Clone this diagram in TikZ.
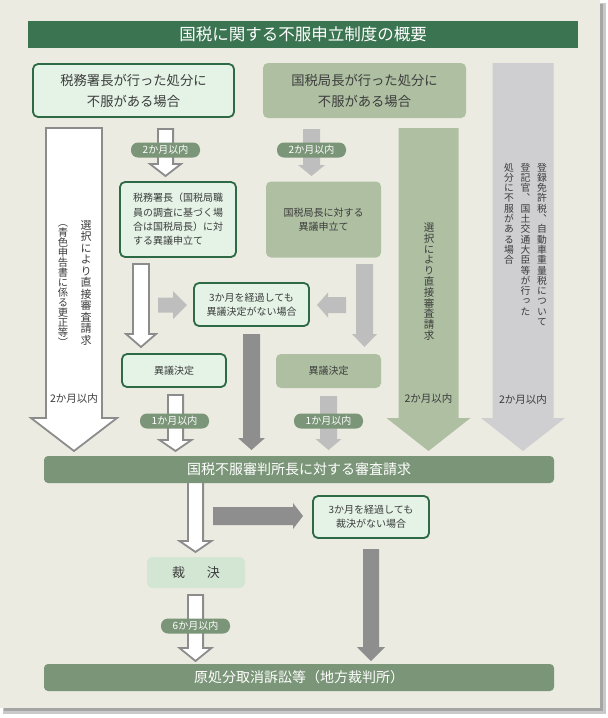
\documentclass[tikz,border=0pt]{standalone}
\usepackage{fontspec}
\setmainfont{Noto Sans CJK JP}
\newfontfamily\tatefont[RawFeature=+vert]{Noto Sans CJK JP}
\usetikzlibrary{calc}

\definecolor{panelbg}{HTML}{EBEBE1}
\definecolor{shadowgray}{HTML}{A5A5A5}
\definecolor{titlegreen}{HTML}{3B7451}
\definecolor{bandgreen}{HTML}{7A9577}
\definecolor{mint}{HTML}{E4F3E6}
\definecolor{boxline}{HTML}{2E6A45}
\definecolor{sage}{HTML}{AFC0A2}
\definecolor{palegreen}{HTML}{D3E6D4}
\definecolor{colgray}{HTML}{CFCFD1}
\definecolor{ltgray}{HTML}{BEBEBE}
\definecolor{dkgray}{HTML}{8E8E8E}
\definecolor{arrowline}{HTML}{8C8C8C}
\definecolor{txtgray}{HTML}{3C3C3C}

\makeatletter
\newcommand\tate[2]{\vbox{\offinterlineskip\tatefont\def\tate@p{#1}\tate@loop#2\@nil}}
\def\tate@loop#1{\ifx#1\@nil\else\hbox{\vrule height\dimexpr0.88em+(\tate@p-1em)/2\relax depth\dimexpr0.12em+(\tate@p-1em)/2\relax width0pt\hbox to1em{\hss#1\hss}}\expandafter\tate@loop\fi}
\makeatother

\newcommand\fatarrow[6][]{%
  \coordinate (fabase) at ($(#3)!#6!(#2)$);
  \path[#1] ($(#2)!#4!90:(#3)$) -- ($(fabase)!#4!90:(#3)$) -- ($(fabase)!#5!90:(#3)$) -- (#3)
    -- ($(fabase)!#5!-90:(#3)$) -- ($(fabase)!#4!-90:(#3)$) -- ($(#2)!#4!-90:(#3)$) -- cycle;}

\begin{document}
\begin{tikzpicture}[x=1pt,y=-1pt,
  whitearrow/.style={fill=white,draw=arrowline,line width=1.8pt,line join=miter},
  ltarrow/.style={fill=ltgray},
  dkarrow/.style={fill=dkgray},
  mintbox/.style={draw=boxline,line width=1.8pt,fill=mint,rounded corners=5pt,text=txtgray,inner sep=0pt},
  sagebox/.style={fill=sage,rounded corners=5pt,text=txtgray,inner sep=0pt},
  pill/.style={fill=bandgreen,text=white,rounded corners=7pt,minimum width=69pt,minimum height=15pt,inner sep=0pt,font=\fontsize{10}{10}\selectfont},
  band/.style={fill=bandgreen,text=white,rounded corners=4pt,minimum width=510pt,minimum height=27pt,inner sep=0pt,font=\fontsize{14}{14}\selectfont},
  small/.style={font=\fontsize{10}{14.3}\selectfont},
  colnote/.style={text=txtgray,inner sep=0pt,font=\fontsize{10.5}{10.5}\selectfont}]
\useasboundingbox (0,0) rectangle (608,718);
\fill[shadowgray!60] (3,3) rectangle (606,714);
\fill[shadowgray] (4,4) rectangle (603,711);
\fill[panelbg] (0,0) rectangle (600,708);

\node[fill=titlegreen,text=white,minimum width=550pt,minimum height=27pt,inner sep=0pt,font=\fontsize{16.5}{16.5}\selectfont] (title) at (303,34.5) {国税に関する不服申立制度の概要};

\node[mintbox,minimum width=201pt,minimum height=53pt,align=center,font=\fontsize{13.3}{21}\selectfont] (zeimu) at (133.5,90.5) {税務署長が行った処分に\\不服がある場合};
\node[sagebox,minimum width=203pt,minimum height=55pt,align=center,font=\fontsize{13.3}{21}\selectfont] (kyoku) at (364.5,90.5) {国税局長が行った処分に\\不服がある場合};

\coordinate (bigws) at (74,128);
\coordinate (bigwt) at (74,451);
\coordinate (bigss) at (428.5,128);
\coordinate (bigst) at (428.5,451);
\coordinate (biggs) at (523,63);
\coordinate (biggt) at (523,451);
\fatarrow[whitearrow]{bigws}{bigwt}{28pt}{43pt}{33pt}
\fatarrow[fill=sage]{bigss}{bigst}{30pt}{42pt}{33pt}
\fatarrow[fill=colgray]{biggs}{biggt}{30.5pt}{42pt}{33pt}

\node[anchor=north,inner sep=0pt,text=txtgray,font=\fontsize{11}{11}\selectfont] (leftsel) at (86,219) {\tate{11.5pt}{選択により直接審査請求}};
\node[anchor=north,inner sep=0pt,text=txtgray,font=\fontsize{10.3}{10.3}\selectfont] (leftblue) at (63,217) {\tate{10pt}{（青色申告書に係る更正等）}};
\node[colnote] (leftdays) at (74,399) {2か月以内};
\node[anchor=north,inner sep=0pt,text=txtgray,font=\fontsize{10.5}{10.5}\selectfont] (midsel) at (429,222) {\tate{10.8pt}{選択により直接審査請求}};
\node[colnote] (middays) at (428.5,399) {2か月以内};
\node[anchor=north,inner sep=0pt,text=txtgray,font=\fontsize{9.8}{9.8}\selectfont] (regA) at (542,162) {\tate{10.3pt}{登録免許税、自動車重量税について}};
\node[anchor=north,inner sep=0pt,text=txtgray,font=\fontsize{9.8}{9.8}\selectfont] (regB) at (525.5,162) {\tate{10.3pt}{登記官、国土交通大臣等が行った}};
\node[anchor=north,inner sep=0pt,text=txtgray,font=\fontsize{9.8}{9.8}\selectfont] (regC) at (509,162) {\tate{10.3pt}{処分に不服がある場合}};
\node[colnote] (regdays) at (523,400) {2か月以内};

\node[mintbox,small,minimum width=116pt,minimum height=75pt,align=left] (igi) at (178,219.5) {税務署長（国税局職\\員の調査に基づく場\\合は国税局長）に対\\する異議申立て};
\node[sagebox,small,minimum width=115pt,minimum height=76pt,align=center] (kyokuigi) at (323.5,219.5) {国税局長に対する\\異議申立て};

\coordinate (a1s) at (165.5,129);
\coordinate (a1t) at (165.5,176);
\fatarrow[whitearrow]{a1s}{a1t}{7.6pt}{15.5pt}{12pt}
\node[pill] (p1) at (165.5,150) {2か月以内};
\coordinate (b1s) at (311.5,129);
\coordinate (b1t) at (311.5,176);
\fatarrow[ltarrow]{b1s}{b1t}{8.5pt}{13.5pt}{11pt}
\node[pill] (p2) at (311.5,150) {2か月以内};

\node[mintbox,small,minimum width=115pt,minimum height=43pt,align=center] (noigi) at (251.5,304.5) {3か月を経過しても\\異議決定がない場合};
\node[mintbox,small,minimum width=104pt,minimum height=33pt] (ketteiA) at (174,370.5) {異議決定};
\node[sagebox,small,minimum width=105pt,minimum height=34pt] (ketteiB) at (328.5,371) {異議決定};

\coordinate (a2s) at (141,264);
\coordinate (a2t) at (141,347);
\fatarrow[whitearrow]{a2s}{a2t}{8pt}{15pt}{13pt}
\coordinate (b2s) at (364.5,264);
\coordinate (b2t) at (364.5,347);
\fatarrow[ltarrow]{b2s}{b2t}{8.5pt}{12.5pt}{13pt}
\coordinate (r1s) at (158,305);
\coordinate (r1t) at (187,305);
\fatarrow[ltarrow]{r1s}{r1t}{7.5pt}{14pt}{14pt}
\coordinate (l1s) at (346,305);
\coordinate (l1t) at (317,305);
\fatarrow[ltarrow]{l1s}{l1t}{8pt}{12.5pt}{11pt}
\coordinate (d1s) at (251.5,334);
\coordinate (d1t) at (251.5,450);
\fatarrow[dkarrow]{d1s}{d1t}{8.5pt}{13.5pt}{12pt}
\coordinate (a3s) at (175.5,395);
\coordinate (a3t) at (175.5,451);
\fatarrow[whitearrow]{a3s}{a3t}{7.6pt}{16pt}{11pt}
\node[pill] (p3) at (174.5,421) {1か月以内};
\coordinate (b3s) at (328.5,396);
\coordinate (b3t) at (328.5,450);
\fatarrow[ltarrow]{b3s}{b3t}{8.5pt}{13pt}{11pt}
\node[pill] (p4) at (328.5,421) {1か月以内};

\coordinate (a4s) at (195.5,480);
\coordinate (a4t) at (195.5,552);
\fatarrow[whitearrow]{a4s}{a4t}{7.6pt}{16pt}{11pt}
\node[band] (shinsa) at (299,469.5) {国税不服審判所長に対する審査請求};

\coordinate (h1s) at (213,516);
\coordinate (h1t) at (303,516);
\fatarrow[dkarrow]{h1s}{h1t}{9pt}{13pt}{10pt}
\node[mintbox,small,minimum width=116pt,minimum height=42pt,align=center] (nosai) at (371,517) {3か月を経過しても\\裁決がない場合};
\node[fill=palegreen,rounded corners=5pt,text=txtgray,minimum width=98pt,minimum height=31pt,inner sep=0pt,font=\fontsize{13}{13}\selectfont] (saiketsu) at (196,572.5) {裁\hspace{22pt}決};

\coordinate (a5s) at (195.5,595);
\coordinate (a5t) at (195.5,661);
\fatarrow[whitearrow]{a5s}{a5t}{7.6pt}{16pt}{13pt}
\node[pill] (p5) at (195.5,626) {6か月以内};
\coordinate (d2s) at (371,549);
\coordinate (d2t) at (371,661);
\fatarrow[dkarrow]{d2s}{d2t}{8pt}{14pt}{14pt}

\node[band] (soshou) at (299,677.5) {原処分取消訴訟等（地方裁判所）};
\end{tikzpicture}
\end{document}
